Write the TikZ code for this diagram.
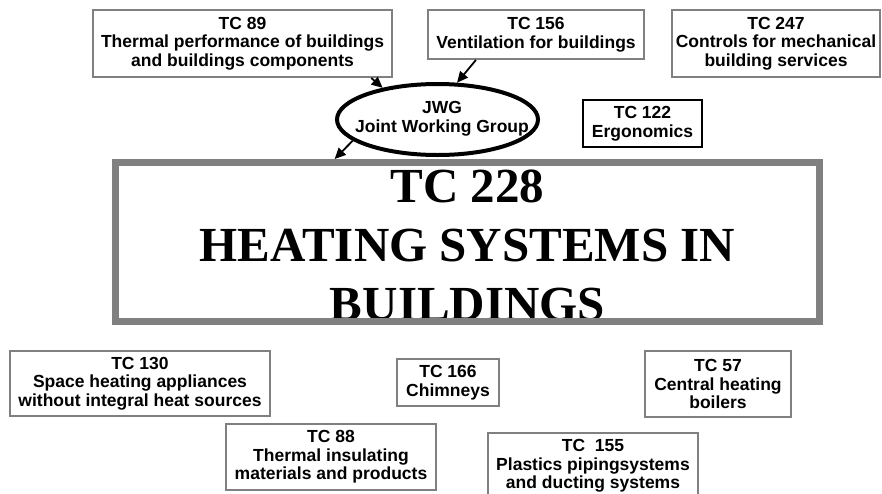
\documentclass[tikz,border=0pt]{standalone}
\usepackage{fontspec}
\setmainfont{Liberation Serif}
\newfontfamily\arialfont{Liberation Sans}
\usetikzlibrary{shapes.geometric,arrows.meta}
\definecolor{boxgray}{HTML}{808080}
\begin{document}
\begin{tikzpicture}[x=1pt,y=-1pt,
  tcbox/.style={draw=boxgray, line width=2pt, fill=white,
    font=\arialfont\bfseries\fontsize{17.5pt}{18.5pt}\selectfont,
    align=center, inner sep=0pt},
  arr/.style={line width=1.8pt, -{Triangle[length=11pt,width=10pt]}}]
\clip (0,0) rectangle (882,493);
% top boxes
\node[tcbox, minimum width=299pt, minimum height=67pt] (tc89) at (242.5,43.5)
  {TC 89\\Thermal performance of buildings\\and buildings components};
\node[tcbox, minimum width=216pt, minimum height=49pt] (tc156) at (536,34.5)
  {TC 156\\Ventilation for buildings};
\node[tcbox, minimum width=208pt, minimum height=67pt] (tc247) at (776,43.5)
  {TC 247\\Controls for mechanical\\building services};
\node[tcbox, draw=black, minimum width=119pt, minimum height=47pt] (tc122) at (642.5,123.5)
  {TC 122\\Ergonomics};
% JWG ellipse
\node[ellipse, draw=black, line width=4pt, fill=white, minimum width=201pt, minimum height=71pt,
  inner sep=0pt, font=\arialfont\bfseries\fontsize{17.5pt}{18.5pt}\selectfont] (jwg) at (437.5,119.5)
  {\makebox[0pt]{\hspace*{9pt}\raisebox{3pt}{\begin{tabular}{@{}c@{}}JWG\\Joint Working Group\end{tabular}}}};
% main title and frame
\node[font=\bfseries\fontsize{49pt}{59pt}\selectfont, align=center, inner sep=0pt] (title) at (467.5,245)
  {TC 228\\HEATING SYSTEMS IN\\BUILDINGS};
\node[draw=boxgray, line width=7pt, minimum width=704pt, minimum height=159pt, inner sep=0pt] (main) at (467.5,242) {};
% bottom boxes
\node[tcbox, minimum width=260pt, minimum height=65pt] (tc130) at (140,383.5)
  {TC 130\\Space heating appliances\\without integral heat sources};
\node[tcbox, minimum width=102pt, minimum height=47pt] (tc166) at (448,382.5)
  {TC 166\\Chimneys};
\node[tcbox, minimum width=146pt, minimum height=66pt] (tc57) at (718,384)
  {TC 57\\Central heating\\boilers};
\node[tcbox, minimum width=210pt, minimum height=66pt] (tc88) at (331,457)
  {TC 88\\Thermal insulating\\materials and products};
\node[tcbox, minimum width=210pt, minimum height=66pt] (tc155) at (593,466)
  {TC\ \ 155\\Plastics pipingsystems\\and ducting systems};
% arrows
\draw[arr] (tc89.-15) -- (jwg.150);
\draw[arr] (tc156.203) -- (jwg.62);
\draw[arr] (jwg.194) -- (main.148);
\end{tikzpicture}
\end{document}
